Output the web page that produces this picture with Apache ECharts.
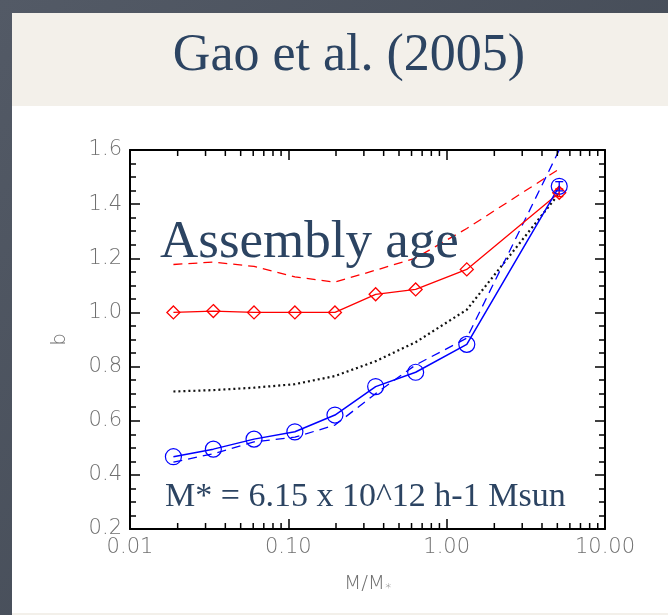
<!DOCTYPE html>
<html>
<head>
<meta charset="utf-8">
<script src="https://cdn.jsdelivr.net/npm/echarts@6/dist/echarts.min.js"></script>
<style>
  html, body { margin: 0; padding: 0; background: #474e5a; }
  #chart { width: 668px; height: 615px; }
</style>
</head>
<body>
<div id="chart"></div>
<script>
// Halo mass in units of the characteristic mass M*
const massRatio = [0.0188, 0.0336, 0.0607, 0.110, 0.197, 0.356, 0.637, 1.34, 5.14];

// Bias b versus M/M* for the different halo subsamples
const bOldSolid    = [1.000, 1.005, 1.000, 1.000, 1.000, 1.067, 1.085, 1.159, 1.442];
const bOldDashed   = [1.177, 1.186, 1.170, 1.131, 1.112, 1.156, 1.201, 1.310, 1.530];
const bAllDotted   = [0.708, 0.713, 0.722, 0.735, 0.765, 0.820, 0.890, 1.010, 1.440];
const bYoungSolid  = [0.467, 0.495, 0.532, 0.559, 0.621, 0.726, 0.779, 0.882, 1.466];
const bYoungDashed = [0.447, 0.478, 0.522, 0.539, 0.584, 0.700, 0.806, 0.905, 1.600];

// Error bars at the most massive bin: [x, low, high]
const errOld   = [5.14, 1.428, 1.456];
const errYoung = [5.14, 1.449, 1.483];

// Tick labels and minor tick positions on the log mass axis
const xTickLabels = ['0.01', '0.10', '1.00', '10.00'];
const yTickLabels = ['0.2', '0.4', '0.6', '0.8', '1.0', '1.2', '1.4', '1.6'];
const xMinorTicks = [0.02, 0.03, 0.04, 0.05, 0.06, 0.07, 0.08, 0.09,
                     0.2, 0.3, 0.4, 0.5, 0.6, 0.7, 0.8, 0.9,
                     2, 3, 4, 5, 6, 7, 8, 9];

const RED = '#ff0000';
const BLUE = '#0000ff';
const INK = '#2c4462';
const Y_MIN = 0.2, Y_MAX = 1.6;

const pairs = ys => massRatio.map((x, i) => [x, ys[i]]);

const labelStyle = {
  color: '#707070',
  fontFamily: '"DejaVu Sans"',
  fontWeight: 200,
  fontSize: 21
};

const chart = echarts.init(document.getElementById('chart'), null, { renderer: 'canvas' });

const xAxisBase = {
  type: 'log',
  logBase: 10,
  min: 0.01,
  max: 10,
  axisLine: { show: true, lineStyle: { color: '#000', width: 2 } },
  axisTick: { show: true, inside: true, length: 10, lineStyle: { color: '#000', width: 1.5 } },
  minorTick: { show: false },
  splitLine: { show: false }
};

const yAxisBase = {
  type: 'value',
  min: Y_MIN,
  max: Y_MAX,
  interval: 0.2,
  axisLine: { show: true, lineStyle: { color: '#000', width: 2 } },
  axisTick: { show: true, inside: true, length: 10, lineStyle: { color: '#000', width: 1.5 } },
  minorTick: { show: true, splitNumber: 4, length: 6, lineStyle: { color: '#000', width: 1.5 } },
  splitLine: { show: false },
  minorSplitLine: { show: false }
};

function errorBarItem(params, api) {
  const lo = api.coord([api.value(0), api.value(1)]);
  const hi = api.coord([api.value(0), api.value(2)]);
  const color = api.value(3) === 0 ? RED : BLUE;
  const style = { stroke: color, lineWidth: 1.3 };
  return {
    type: 'group',
    children: [
      { type: 'line', shape: { x1: lo[0], y1: lo[1], x2: hi[0], y2: hi[1] }, style },
      { type: 'line', shape: { x1: hi[0] - 4, y1: hi[1], x2: hi[0] + 4, y2: hi[1] }, style },
      { type: 'line', shape: { x1: lo[0] - 4, y1: lo[1], x2: lo[0] + 4, y2: lo[1] }, style }
    ]
  };
}

function minorTickItem(params, api) {
  const v = api.value(0);
  const b = api.coord([v, Y_MIN]);
  const t = api.coord([v, Y_MAX]);
  const style = { stroke: '#000', lineWidth: 1.5 };
  return {
    type: 'group',
    children: [
      { type: 'line', shape: { x1: b[0], y1: b[1], x2: b[0], y2: b[1] - 6 }, style },
      { type: 'line', shape: { x1: t[0], y1: t[1], x2: t[0], y2: t[1] + 6 }, style }
    ]
  };
}

chart.setOption({
  animation: false,
  backgroundColor: {
    type: 'linear', x: 0, y: 0, x2: 1, y2: 1,
    colorStops: [{ offset: 0, color: '#535a66' }, { offset: 1, color: '#3e4550' }]
  },
  graphic: [
    { type: 'rect', z: -10, shape: { x: 12, y: 13, width: 656, height: 93 }, style: { fill: '#f3f0ea' } },
    { type: 'rect', z: -10, shape: { x: 12, y: 106, width: 656, height: 507 }, style: { fill: '#ffffff' } },
    { type: 'rect', z: -10, shape: { x: 12, y: 613, width: 656, height: 2 }, style: { fill: '#f3f0ea' } },
    {
      type: 'text', z: 100, x: 349, y: 56,
      style: { text: 'Gao et al. (2005)', font: '52px "Liberation Serif"', fill: INK, align: 'center', verticalAlign: 'middle' }
    },
    {
      type: 'text', z: 100, x: 160, y: 243,
      style: { text: 'Assembly age', font: '53px "Liberation Serif"', fill: INK, align: 'left', verticalAlign: 'middle' }
    },
    {
      type: 'text', z: 100, x: 165, y: 497,
      style: { text: 'M* = 6.15 x 10^12 h-1 Msun', font: '34px "Liberation Serif"', fill: INK, align: 'left', verticalAlign: 'middle' }
    }
  ],
  grid: { left: 130, right: 63, top: 150, bottom: 86, show: false, outerBoundsMode: 'none' },
  xAxis: [
    Object.assign({}, xAxisBase, {
      position: 'bottom',
      axisLabel: Object.assign({}, labelStyle, {
        margin: 8,
        formatter: (v, i) => xTickLabels[i] !== undefined ? xTickLabels[i] : ''
      }),
      name: 'M/M{s|*}',
      nameLocation: 'middle',
      nameGap: 44,
      nameTextStyle: {
        color: '#707070', fontFamily: '"DejaVu Sans"', fontWeight: 200, fontSize: 20,
        rich: { s: { fontSize: 12, color: '#707070', padding: [10, 0, 0, 0] } }
      }
    }),
    Object.assign({}, xAxisBase, { position: 'top', axisLabel: { show: false } })
  ],
  yAxis: [
    Object.assign({}, yAxisBase, {
      position: 'left',
      axisLabel: Object.assign({}, labelStyle, {
        margin: 8,
        formatter: (v, i) => yTickLabels[i] !== undefined ? yTickLabels[i] : ''
      }),
      name: 'b',
      nameLocation: 'middle',
      nameGap: 60,
      nameTextStyle: { color: '#707070', fontFamily: '"DejaVu Sans"', fontWeight: 200, fontSize: 20 }
    }),
    Object.assign({}, yAxisBase, { position: 'right', axisLabel: { show: false } })
  ],
  series: [
    {
      type: 'custom', name: 'minor ticks', xAxisIndex: 0, yAxisIndex: 0,
      renderItem: minorTickItem, silent: true, z: 5,
      data: xMinorTicks.map(v => [v, Y_MIN])
    },
    {
      type: 'line', name: 'old dashed', data: pairs(bOldDashed), clip: true,
      showSymbol: false, symbol: 'none',
      lineStyle: { color: RED, width: 1.3, type: [9, 6] }
    },
    {
      type: 'line', name: 'all dotted', data: pairs(bAllDotted), clip: true,
      showSymbol: false, symbol: 'none',
      lineStyle: { color: '#111', width: 2.2, type: [2, 3] }
    },
    {
      type: 'line', name: 'young dashed', data: pairs(bYoungDashed), clip: true,
      showSymbol: false, symbol: 'none',
      lineStyle: { color: BLUE, width: 1.3, type: [9, 6] }
    },
    {
      type: 'line', name: 'old', data: pairs(bOldSolid), clip: true,
      symbol: 'diamond', symbolSize: 13,
      itemStyle: { color: 'rgba(0,0,0,0)', borderColor: RED, borderWidth: 1.3 },
      lineStyle: { color: RED, width: 1.3 }
    },
    {
      type: 'line', name: 'young', data: pairs(bYoungSolid), clip: true,
      symbol: 'circle', symbolSize: 16,
      itemStyle: { color: 'rgba(0,0,0,0)', borderColor: BLUE, borderWidth: 1.2 },
      lineStyle: { color: BLUE, width: 1.5 }
    },
    {
      type: 'custom', name: 'error bars', renderItem: errorBarItem, z: 6,
      data: [errOld.concat([0]), errYoung.concat([1])]
    }
  ]
});
</script>
</body>
</html>
